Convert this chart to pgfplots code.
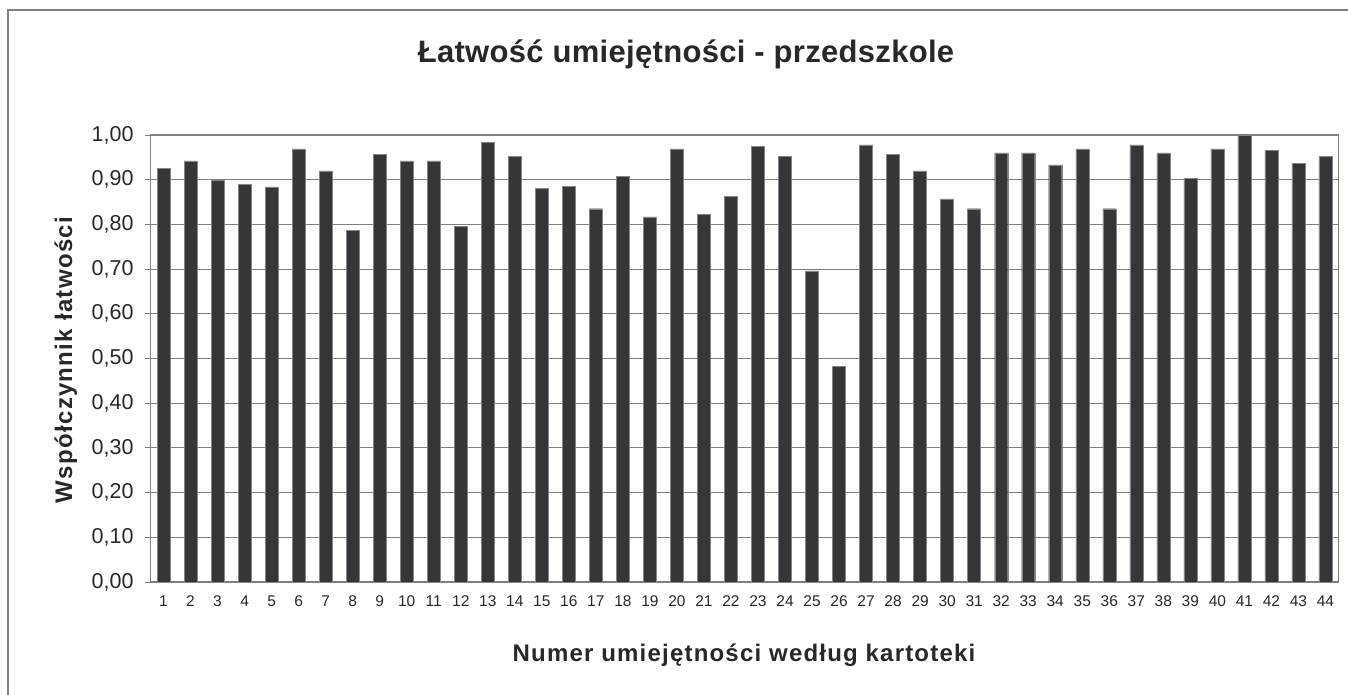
\documentclass[border=0pt]{standalone}
\usepackage{pgfplots}
\pgfplotsset{compat=1.18}
\usepackage{fontspec}
\setmainfont{Liberation Sans}
\definecolor{barc}{RGB}{54,53,58}
\definecolor{gridc}{RGB}{128,128,128}
\definecolor{txt}{RGB}{40,40,40}
\begin{document}
\begin{tikzpicture}[x=1pt,y=1pt]
\path[use as bounding box] (0,0) rectangle (1348,695);
\draw[gridc,line width=1.2pt] (8,0) -- (8,685) -- (1348,685);
\begin{axis}[
  at={(150pt,113pt)}, anchor=south west,
  scale only axis, width=1189pt, height=447pt,
  xmin=0.5, xmax=44.5, ymin=0, ymax=1,
  ybar, bar width=13pt,
  axis line style={gridc, line width=1pt},
  xtick={1,...,44},
  xtick style={draw=none},
  minor xtick={0.5,1.5,...,44.5},
  minor x tick style={gridc, line width=0.8pt},
  minor tick length=5pt,
  ytick={0,0.1,...,1.0},
  y tick style={gridc, line width=0.8pt},
  major tick length=5pt,
  tick align=outside,
  tick pos=left,
  ymajorgrids,
  grid style={gridc, line width=0.9pt},
  /pgf/number format/assume math mode=true,
  yticklabel style={/pgf/number format/fixed, /pgf/number format/fixed zerofill, /pgf/number format/precision=2, /pgf/number format/use comma},
  y tick label style={font=\fontsize{21.5}{23}\selectfont, text=txt, xshift=-8pt},
  x tick label style={font=\fontsize{15.5}{17}\selectfont, text=txt, yshift=-5pt},
  clip=false,
]
\addplot[fill=barc, draw=barc!60!white, line width=0.4pt] coordinates {
(1,0.925) (2,0.942) (3,0.898) (4,0.889) (5,0.884) (6,0.969) (7,0.920) (8,0.787)
(9,0.956) (10,0.942) (11,0.942) (12,0.796) (13,0.983) (14,0.952) (15,0.880) (16,0.885)
(17,0.835) (18,0.907) (19,0.817) (20,0.969) (21,0.822) (22,0.862) (23,0.974) (24,0.952)
(25,0.696) (26,0.482) (27,0.978) (28,0.956) (29,0.920) (30,0.857) (31,0.835) (32,0.960)
(33,0.960) (34,0.933) (35,0.969) (36,0.835) (37,0.978) (38,0.960) (39,0.903) (40,0.969)
(41,1.000) (42,0.965) (43,0.937) (44,0.952)
};
\end{axis}
\node[anchor=base, text=txt, font=\fontsize{31}{34}\selectfont\bfseries\addfontfeature{LetterSpace=1}] at (686,632.7) {Łatwość umiejętności - przedszkole};
\node[anchor=base, text=txt, font=\fontsize{24}{27}\selectfont\bfseries\addfontfeature{LetterSpace=5}] at (744,33.3) {Numer umiejętności według kartoteki};
\node[anchor=base, rotate=90, text=txt, font=\fontsize{24}{27}\selectfont\bfseries\addfontfeature{LetterSpace=5.5}] at (72,335) {Współczynnik łatwości};
\end{tikzpicture}
\end{document}
